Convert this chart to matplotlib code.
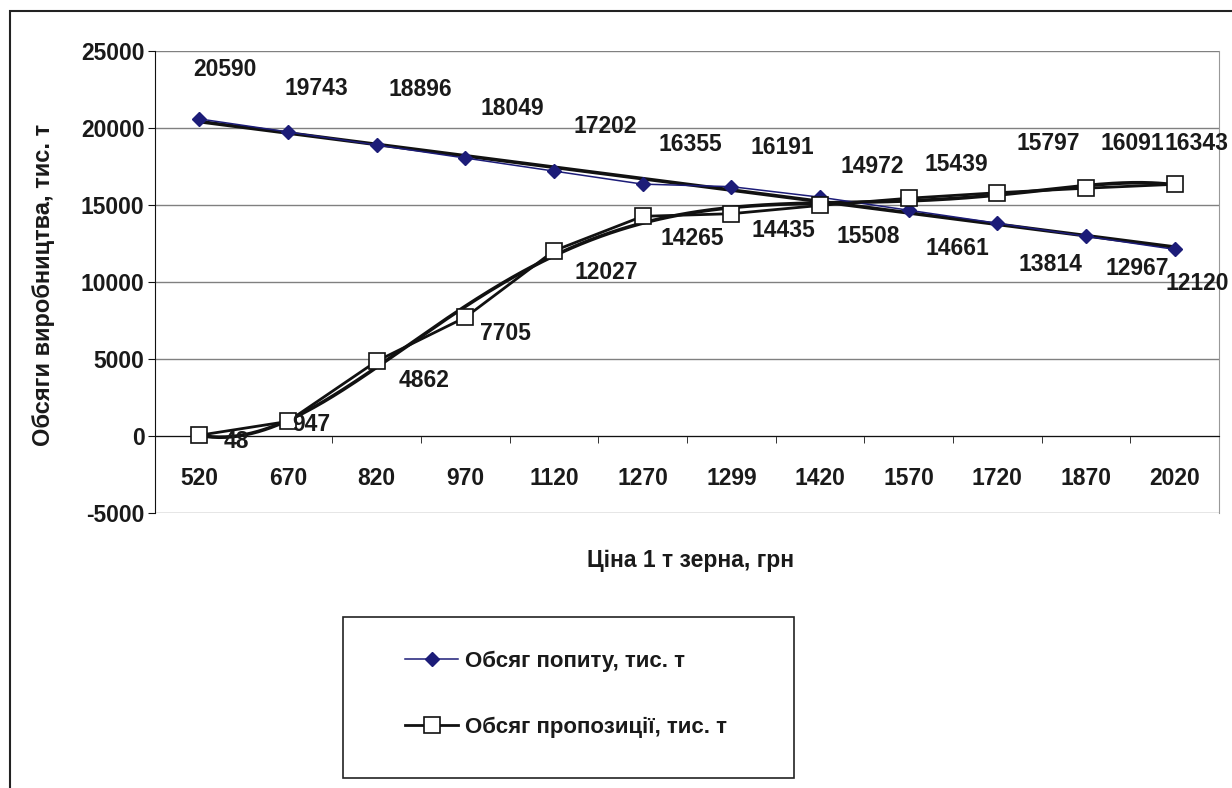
import numpy as np
import matplotlib
matplotlib.use("Agg")
import matplotlib.pyplot as plt
from matplotlib.patches import Rectangle
from matplotlib.lines import Line2D

plt.rcParams["font.family"] = ["Liberation Sans", "DejaVu Sans"]
plt.rcParams["font.weight"] = "bold"
plt.rcParams["axes.unicode_minus"] = False

# data
prices = ["520", "670", "820", "970", "1120", "1270", "1299", "1420",
          "1570", "1720", "1870", "2020"]
demand = [20590, 19743, 18896, 18049, 17202, 16355, 16191, 15508,
          14661, 13814, 12967, 12120]
supply = [48, 947, 4862, 7705, 12027, 14265, 14435, 14972,
          15439, 15797, 16091, 16343]

demand_name = "Обсяг попиту, тис. т"
supply_name = "Обсяг пропозиції, тис. т"
x_title = "Ціна 1 т зерна, грн"
y_title = "Обсяги виробництва, тис. т"

# label offsets in pixels (dx, dy)
demand_off = [(26, 49), (28, 43), (44, 56), (47, 50), (51, 45), (48, 40),
              (51, 39), (48, -39), (49, -38), (53, -41), (51, -32), (23, -34)]
supply_off = [(37, -6), (23, -3), (47, -19), (40, -16), (52, -22), (50, -22),
              (52, -17), (52, 39), (48, 34), (51, 49), (46, 45), (22, 41)]

W, H = 1232, 788
fig = plt.figure(figsize=(W / 100, H / 100), dpi=100)
txt = "#1a1a1a"
fs = 16.5

# outer chart frame
fig.patches.append(Rectangle((10 / W, -0.1), 1.2, (H - 11) / H + 0.1,
                             transform=fig.transFigure, fill=False,
                             edgecolor="#222222", lw=1.5))

ax = fig.add_axes([155 / W, (H - 513) / H, (1219 - 155) / W, (513 - 51) / H])
x = np.arange(len(prices))

ax.set_xlim(-0.5, len(prices) - 0.5)
ax.set_ylim(-5000, 25000)
ax.set_yticks(np.arange(-5000, 25001, 5000))
ax.yaxis.grid(True, color="#808080", lw=1)
ax.set_axisbelow(True)

ax.spines["top"].set_visible(False)
ax.spines["right"].set_color("#999999")
ax.spines["left"].set_color("#111111")
ax.spines["bottom"].set_position(("data", 0))
ax.spines["bottom"].set_color("#111111")

ax.set_xticks(x)
ax.set_xticklabels(prices)
ax.set_xticks(np.arange(-0.5, len(prices), 1), minor=True)
ax.tick_params(axis="x", which="major", length=0, pad=22, labelsize=fs,
               labelcolor=txt)
ax.tick_params(axis="x", which="minor", length=5, direction="out",
               color="#111111")
ax.tick_params(axis="y", length=5, direction="out", pad=2.5, labelsize=fs,
               labelcolor=txt, color="#111111")

# trendlines (linear for demand, polynomial for supply), as Excel on 1..n
xi = x + 1
xs = np.linspace(0, len(prices) - 1, 300)
pd_ = np.polyfit(xi, demand, 1)
ps_ = np.polyfit(xi, supply, 6)
ax.plot(xs, np.polyval(pd_, xs + 1), color="#111111", lw=2.6, zorder=3)
ax.plot(xs, np.polyval(ps_, xs + 1), color="#111111", lw=2.6, zorder=3)

ax.plot(x, demand, color="#1c1c78", lw=1.1, marker="D", ms=7.5,
        mfc="#1c1c78", mec="#1c1c78", zorder=4, clip_on=False)
ax.plot(x, supply, color="#111111", lw=2, marker="s", ms=11,
        mfc="white", mec="#111111", mew=1.2, zorder=5, clip_on=False)

for i in range(len(prices)):
    ax.annotate(str(demand[i]), (x[i], demand[i]), xytext=demand_off[i],
                textcoords="offset pixels", ha="center", va="center",
                fontsize=fs, color=txt, zorder=6)
    ax.annotate(str(supply[i]), (x[i], supply[i]), xytext=supply_off[i],
                textcoords="offset pixels", ha="center", va="center",
                fontsize=fs, color=txt, zorder=6)

fig.text(691 / W, 1 - 560 / H, x_title, ha="center", va="center",
         fontsize=16.5, color=txt)
fig.text(44 / W, 1 - 285 / H, y_title, ha="center", va="center",
         rotation=90, fontsize=17, color=txt)

# legend box
fig.patches.append(Rectangle((343 / W, 1 - 778 / H), (794 - 343) / W,
                             (778 - 617) / H, transform=fig.transFigure,
                             fill=False, edgecolor="#222222", lw=1.2))
handles = [
    Line2D([], [], color="#1c1c78", lw=1.1, marker="D", ms=7,
           mfc="#1c1c78", mec="#1c1c78"),
    Line2D([], [], color="#111111", lw=2, marker="s", ms=11,
           mfc="white", mec="#111111", mew=1.2),
]
fig.legend(handles, [demand_name, supply_name], loc="upper left",
           bbox_to_anchor=(405 / W, 1 - 651 / H), frameon=False,
           fontsize=16, handlelength=2.4, handletextpad=0.3,
           labelspacing=2.0, borderpad=0, borderaxespad=0,
           labelcolor=txt)

fig.savefig("out.png", dpi=100)
